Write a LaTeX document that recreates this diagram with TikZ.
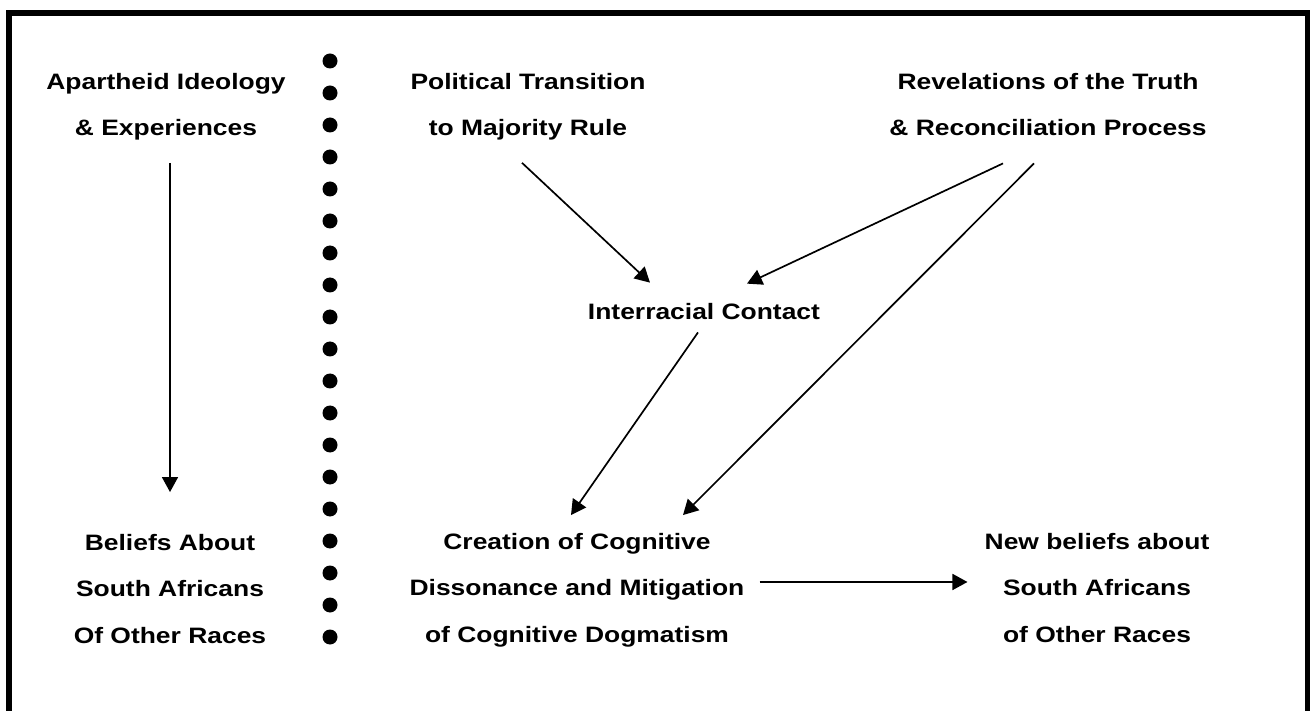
\documentclass[tikz,border=0pt]{standalone}
\usepackage{fontspec}
\setmainfont[FakeStretch=1.185]{Liberation Sans}
\usetikzlibrary{arrows.meta,positioning,calc}
\tikzset{
factor/.style={
  align=center, inner sep=0pt, anchor=base,
  font=\fontsize{22.3}{46.3}\selectfont\bfseries
  },
dot/.style={
  circle, fill=black, inner sep=0pt, minimum size=15pt
  },
link/.style={
  -{Triangle[length=15pt,width=16pt]}, line width=1.7pt
  }
}

\begin{document}
\begin{tikzpicture}[x=1pt,y=-1pt]
\useasboundingbox (0,0) rectangle (1310,711);
\clip (0,0) rectangle (1310,711);

% frame, open at the bottom edge
\draw[line width=6pt] (8.5,740) -- (8.5,13.5) -- (1307.5,13.5) -- (1307.5,740);

% dotted divider
\foreach \i in {0,...,18}
  \node[dot] (d\i) at (330,{61+32*\i}) {};

% base anchor sits on the last line
\node[factor] (apart) at (166,136) {Apartheid Ideology\\\& Experiences};
\node[factor] (beliefs) at (170,643) {Beliefs About\\South Africans\\Of Other Races};

\node[factor] (poltrans) at (528,136) {Political Transition\\to Majority Rule};
\node[factor] (truth) at (1048,136) {Revelations of the Truth\\\& Reconciliation Process};
\node[factor] (contact) at (704,320) {Interracial Contact};
\node[factor] (creation) at (577,642)
  {Creation of Cognitive\\Dissonance and Mitigation\\of Cognitive Dogmatism};
\node[factor] (newbel) at (1097,642) {New beliefs about\\South Africans\\of Other Races};

\draw[link]
  ([xshift=4pt, yshift=-22pt]apart.south) -- ([yshift=42pt]beliefs.north);
\draw[link]
  ([xshift=-6pt, yshift=-22pt]poltrans.south) -- ([xshift=-54pt, yshift=21pt]contact.north);
\draw[link]
  ([xshift=-45pt, yshift=-27pt]truth.south) -- ([xshift=43pt, yshift=20pt]contact.north);
\draw[link]
  ([xshift=-14pt, yshift=-27pt]truth.south) -- ([xshift=106pt, yshift=18pt]creation.north);
\draw[link]
  ([xshift=-6pt, yshift=-12pt]contact.south) -- ([xshift=-6pt, yshift=18pt]creation.north);
\draw[link]
  ([xshift=15pt, yshift=8pt]creation.east) -- ($(newbel.west |- creation.east)+(-17,-8)$);

\end{tikzpicture}
\end{document}
